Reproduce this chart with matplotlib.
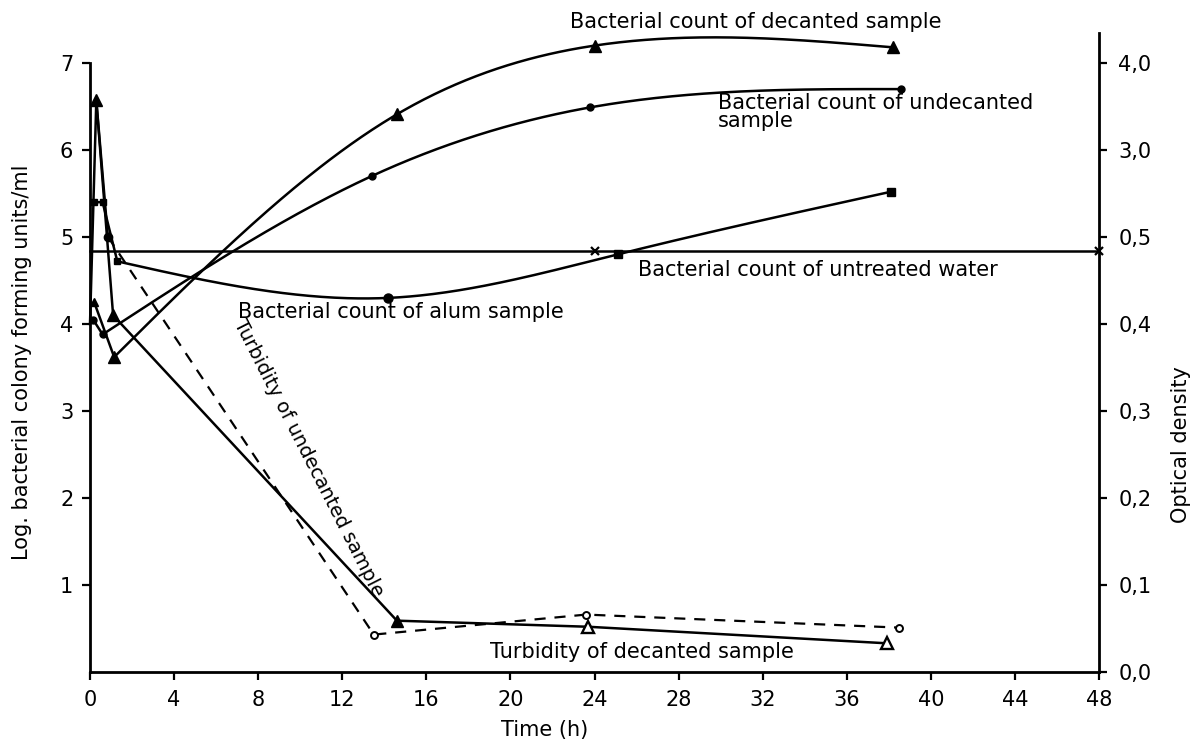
import numpy as np
import matplotlib
matplotlib.use("Agg")
import matplotlib.pyplot as plt

# ---------------- data ----------------
x_ticks = [0, 4, 8, 12, 16, 20, 24, 28, 32, 36, 40, 44, 48]
left_ticks = [1, 2, 3, 4, 5, 6, 7]
od_ticks = [0.0, 0.1, 0.2, 0.3, 0.4, 0.5, 3.0, 4.0]
od_tick_labels = ["0,0", "0,1", "0,2", "0,3", "0,4", "0,5", "3,0", "4,0"]

# bacterial counts (log CFU/ml)
t_untreated = [0.0, 24.0, 48.0]
v_untreated = [4.84, 4.84, 4.84]

t_decanted = [0.2, 1.15, 14.6, 24.0, 38.2]
v_decanted = [4.25, 3.62, 6.41, 7.20, 7.18]

t_undecanted = [0.15, 0.6, 13.4, 23.8, 38.6]
v_undecanted = [4.05, 3.88, 5.70, 6.49, 6.70]

t_alum = [0.2, 0.6, 1.3, 14.2, 25.1, 38.1]
v_alum = [5.40, 5.40, 4.72, 4.30, 4.80, 5.52]

# turbidity (optical density)
t_turb_dec = [0.0, 0.3, 1.1, 14.6, 23.7, 37.9]
od_turb_dec = [0.40, 3.57, 0.41, 0.059, 0.052, 0.033]

t_turb_undec = [0.3, 0.85, 13.5, 23.6, 38.5]
od_turb_undec = [3.57, 0.507, 0.043, 0.066, 0.051]


# ---------------- helpers ----------------
def od_to_axis(od):
    """Broken optical-density scale: 0-0.5 linear, then 3,0 and 4,0."""
    od = np.asarray(od, float)
    return np.where(od <= 0.5, od * 10.0,
                    np.where(od <= 3.0, 5.0 + (od - 0.5) / 2.5, 6.0 + (od - 3.0)))


def nat_spline(x, y, num=300):
    x = np.asarray(x, float)
    y = np.asarray(y, float)
    n = len(x)
    h = np.diff(x)
    A = np.zeros((n, n))
    b = np.zeros(n)
    A[0, 0] = 1.0
    A[-1, -1] = 1.0
    for i in range(1, n - 1):
        A[i, i - 1] = h[i - 1]
        A[i, i] = 2 * (h[i - 1] + h[i])
        A[i, i + 1] = h[i]
        b[i] = 3 * ((y[i + 1] - y[i]) / h[i] - (y[i] - y[i - 1]) / h[i - 1])
    c = np.linalg.solve(A, b)
    xs = np.linspace(x[0], x[-1], num)
    idx = np.clip(np.searchsorted(x, xs) - 1, 0, n - 2)
    dx = xs - x[idx]
    bc = (y[1:] - y[:-1]) / h - h * (2 * c[:-1] + c[1:]) / 3
    d = (c[1:] - c[:-1]) / (3 * h)
    ys = y[idx] + bc[idx] * dx + c[idx] * dx ** 2 + d[idx] * dx ** 3
    return xs, ys


def draw_curve(ax, t, v, k, lw=1.8):
    """straight segments up to index k, smooth curve from index k on"""
    ax.plot(t[:k + 1], v[:k + 1], color="black", lw=lw, clip_on=False,
            solid_joinstyle="miter")
    xs, ys = nat_spline(t[k:], v[k:])
    ax.plot(xs, ys, color="black", lw=lw, clip_on=False)


plt.rcParams["font.family"] = ["DejaVu Sans"]
FS = 15

fig = plt.figure(figsize=(11.97, 7.42), dpi=100)
fig.patch.set_facecolor("white")
W, H = 1197.0, 742.0
x0, x1 = 90.0, 1099.0
ybot = 672.0
ppu = 87.0
ytop_val = 7.35
ax = fig.add_axes([x0 / W, (H - ybot) / H, (x1 - x0) / W, ytop_val * ppu / H])
ax2 = ax.twinx()

ax.set_xlim(0, 48)
ax.set_ylim(0, ytop_val)
ax2.set_ylim(0, ytop_val)

# ---- bacterial counts ----
ax.plot(t_untreated, v_untreated, color="black", lw=1.8, clip_on=False)
ax.plot(t_untreated[1:], v_untreated[1:], "x", color="black", ms=6, mew=1.6,
        clip_on=False)

draw_curve(ax, t_decanted, v_decanted, 1)
ax.plot(t_decanted[1:], v_decanted[1:], "^", color="black", ms=9, clip_on=False)
ax.plot(t_decanted[:1], v_decanted[:1], "^", color="black", ms=6, clip_on=False)

draw_curve(ax, t_undecanted, v_undecanted, 1)
ax.plot(t_undecanted, v_undecanted, "o", color="black", ms=5, clip_on=False)

draw_curve(ax, t_alum, v_alum, 2)
ax.plot(t_alum[:3], v_alum[:3], "s", color="black", ms=5, clip_on=False)
ax.plot(t_alum[3:4], v_alum[3:4], "o", color="black", ms=6.5, clip_on=False)
ax.plot(t_alum[4:], v_alum[4:], "s", color="black", ms=5.5, clip_on=False)

# ---- turbidity ----
yd = od_to_axis(od_turb_dec)
ax2.plot(t_turb_dec, yd, color="black", lw=1.8, clip_on=False)
ax2.plot(t_turb_dec[1:4], yd[1:4], "^", color="black", ms=9, clip_on=False)
ax2.plot(t_turb_dec[4:], yd[4:], "^", color="black", mfc="white", ms=8,
         mew=1.7, clip_on=False)

yu = od_to_axis(od_turb_undec)
ax2.plot(t_turb_undec[:2], yu[:2], color="black", lw=1.8, clip_on=False)
ax2.plot(t_turb_undec[1:], yu[1:], color="black", lw=1.6, ls=(0, (5, 4)),
         clip_on=False)
ax2.plot(t_turb_undec[1:2], yu[1:2], "o", color="black", ms=6, clip_on=False)
ax2.plot(t_turb_undec[2:], yu[2:], "o", color="black", mfc="white", ms=5,
         mew=1.4, clip_on=False)

# ---- axes styling ----
for a in (ax, ax2):
    a.spines["top"].set_visible(False)
    for s in a.spines.values():
        s.set_linewidth(2.0)
ax.spines["right"].set_visible(False)
ax2.spines["left"].set_visible(False)
ax2.spines["bottom"].set_visible(False)
ax.spines["left"].set_bounds(0, 7)
ax2.spines["right"].set_bounds(0, ytop_val)

ax.set_xticks(x_ticks)
ax.set_xticklabels([str(v) for v in x_ticks], fontsize=FS)
ax.set_yticks(left_ticks)
ax.set_yticklabels([str(v) for v in left_ticks], fontsize=FS)
ax2.set_yticks(od_to_axis(od_ticks))
ax2.set_yticklabels(od_tick_labels, fontsize=FS)
ax.tick_params(axis="x", direction="out", length=6, width=1.6, pad=7)
ax.tick_params(axis="y", direction="out", length=6, width=1.6, pad=6)
ax2.tick_params(axis="y", direction="out", length=6, width=1.6, pad=8)

# ---- axis titles ----
fig.text(545 / W, 1 - 730 / H, "Time (h)", ha="center", va="center", fontsize=FS)
fig.text(22 / W, 1 - 362 / H, "Log. bacterial colony forming units/ml",
         rotation=90, ha="center", va="center", fontsize=FS)
fig.text(1181 / W, 1 - 445 / H, "Optical density", rotation=90,
         ha="center", va="center", fontsize=FS)


# ---- curve labels (placed by pixel position) ----
def px(xp, yp):
    return (xp - x0) / (x1 - x0) * 48.0, (ybot - yp) / ppu


ax.text(*px(570, 22), "Bacterial count of decanted sample", fontsize=FS,
        ha="left", va="center")
ax.text(*px(718, 112), "Bacterial count of undecanted\nsample", fontsize=FS,
        ha="left", va="center", linespacing=0.9)
ax.text(*px(638, 270), "Bacterial count of untreated water", fontsize=FS,
        ha="left", va="center")
ax.text(*px(238, 312), "Bacterial count of alum sample", fontsize=FS,
        ha="left", va="center")
ax.text(*px(490, 652), "Turbidity of decanted sample", fontsize=FS,
        ha="left", va="center")
ax.text(*px(308, 458), "Turbidity of undecanted sample", fontsize=14,
        ha="center", va="center", rotation=-63, rotation_mode="anchor")

fig.savefig("out.png", dpi=100, facecolor="white")
